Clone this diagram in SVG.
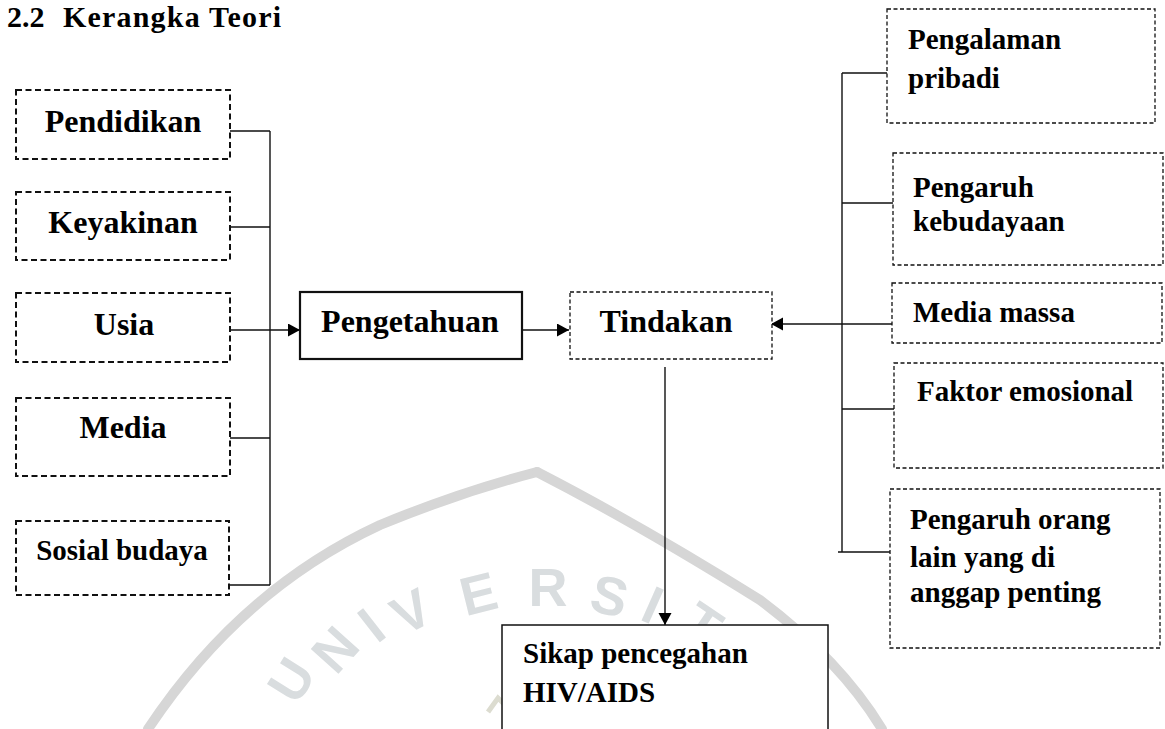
<svg xmlns="http://www.w3.org/2000/svg" width="1165" height="729" viewBox="0 0 1165 729">
<style>
  .t{font-family:"Liberation Serif","Times New Roman",serif;font-weight:bold;fill:#000}
  .l{font-size:32px;text-anchor:middle}
  .r{font-size:29px}
  .dl{fill:#fff;stroke:#111;stroke-width:2;stroke-dasharray:6 3.5}
  .dr{fill:#fff;stroke:#111;stroke-width:1.3;stroke-dasharray:4 2.5}
  .sb{fill:#fff;stroke:#111}
  .c{fill:none;stroke:#111;stroke-width:1.4}
  .wm{fill:none;stroke:#d6d6d6;stroke-width:10;stroke-linecap:round}
  .wl{font-family:"Liberation Sans",Arial,sans-serif;font-weight:bold;font-size:54px;fill:#d9dddf;text-anchor:middle}
</style>
<defs>
  <marker id="ah" markerUnits="userSpaceOnUse" markerWidth="13" markerHeight="14" refX="12" refY="6.5" orient="auto">
    <path d="M0,0 L12,6.5 L0,13 z" fill="#000"/>
  </marker>
</defs>
<rect width="1165" height="729" fill="#fff"/>
<g id="watermark">
  <path class="wm" d="M148,729 Q240,590 380,525 Q460,492 537,472"/>
  <path class="wm" d="M537,472 Q640,525 760,600 Q840,660 882,729"/>
  <text class="wl" transform="translate(307,690) rotate(-58)">U</text>
  <text class="wl" transform="translate(349,662) rotate(-48)">N</text>
  <text class="wl" transform="translate(383,640) rotate(-38)">I</text>
  <text class="wl" transform="translate(420,628) rotate(-28)">V</text>
  <text class="wl" transform="translate(483,612) rotate(-14)">E</text>
  <text class="wl" transform="translate(548,606) rotate(0)">R</text>
  <text class="wl" transform="translate(605,614) rotate(14)">S</text>
  <text class="wl" transform="translate(645,622) rotate(24)">I</text>
  <text class="wl" transform="translate(692,640) rotate(34)">T</text>
  <path d="M488,712 l10,-14 l8,8" fill="none" stroke="#dcdcd0" stroke-width="5"/>
</g>
<g id="title"><text class="t" y="27" font-size="30"><tspan x="7">2.2</tspan><tspan x="63" textLength="218" lengthAdjust="spacing">Kerangka Teori</tspan></text></g>
<g id="connectors">
  <path class="c" d="M230,131 H270 M230,227 H270 M230,438 H270 M229,585 H270 M270,131 V585"/>
  <path class="c" d="M230,330 H300" marker-end="url(#ah)"/>
  <path class="c" d="M522,330 H569" marker-end="url(#ah)"/>
  <path class="c" d="M842,73 V552 M842,73 H887 M842,203 H893 M842,409 H894 M838,552 H890"/>
  <path class="c" d="M892,324 H771" marker-end="url(#ah)"/>
  <path class="c" d="M665,367 V625" marker-end="url(#ah)"/>
</g>
<g id="pendidikan"><rect class="dl" x="16" y="90" width="214" height="69"/><text class="t l" x="123" y="132">Pendidikan</text></g>
<g id="keyakinan"><rect class="dl" x="16" y="192" width="214" height="68"/><text class="t l" x="123" y="233">Keyakinan</text></g>
<g id="usia"><rect class="dl" x="16" y="293" width="214" height="69"/><text class="t l" x="124" y="335">Usia</text></g>
<g id="media"><rect class="dl" x="16" y="398" width="214" height="78"/><text class="t l" x="123" y="438">Media</text></g>
<g id="sosial"><rect class="dl" x="16" y="521" width="213" height="74"/><text class="t" x="122" y="560" font-size="29" text-anchor="middle">Sosial budaya</text></g>
<g id="pengetahuan"><rect class="sb" x="300" y="292" width="222" height="67" stroke-width="2.2"/><text class="t l" x="410" y="332">Pengetahuan</text></g>
<g id="tindakan"><rect class="dr" x="570" y="292" width="202" height="67"/><text class="t l" x="666" y="332">Tindakan</text></g>
<g id="pengalaman"><rect class="dr" x="887" y="9" width="268" height="114"/><text class="t r" x="908" y="49">Pengalaman</text><text class="t r" x="908" y="88">pribadi</text></g>
<g id="kebudayaan"><rect class="dr" x="893" y="153" width="270" height="112"/><text class="t r" x="913" y="197">Pengaruh</text><text class="t r" x="913" y="231">kebudayaan</text></g>
<g id="mediamassa"><rect class="dr" x="892" y="283" width="270" height="60"/><text class="t r" x="913" y="322">Media massa</text></g>
<g id="emosional"><rect class="dr" x="894" y="363" width="269" height="105"/><text class="t r" x="917" y="401">Faktor emosional</text></g>
<g id="orang"><rect class="dr" x="890" y="489" width="270" height="159"/><text class="t r" x="910" y="529">Pengaruh orang</text><text class="t r" x="910" y="567">lain yang di</text><text class="t r" x="910" y="602">anggap penting</text></g>
<g id="sikap"><rect class="sb" x="502" y="625" width="326" height="120" stroke-width="1.5"/><text class="t r" x="523" y="663">Sikap pencegahan</text><text class="t r" x="523" y="702">HIV/AIDS</text></g>
</svg>
